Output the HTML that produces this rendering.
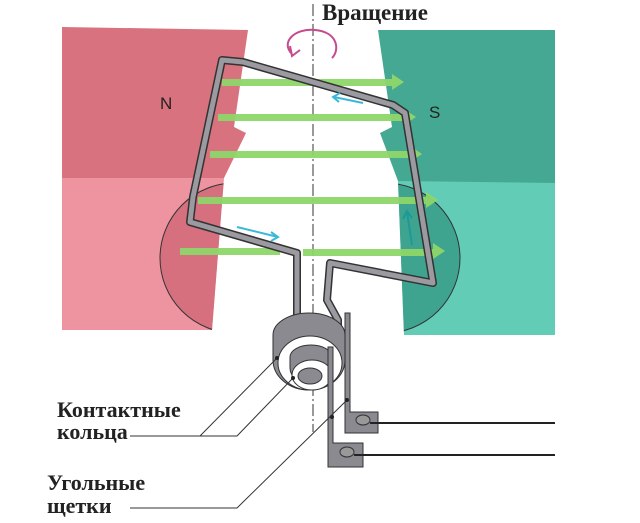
<!DOCTYPE html>
<html><head><meta charset="utf-8"><style>
html,body{margin:0;padding:0;background:#fff;}
svg{display:block;}
text{font-family:"Liberation Serif",serif;font-weight:bold;fill:#222;}
</style></head><body>
<svg width="640" height="523" viewBox="0 0 640 523" xmlns="http://www.w3.org/2000/svg">
<defs>
<clipPath id="cl"><polygon points="62,178 224,178 212,330 62,330"/></clipPath>
<clipPath id="cr"><polygon points="398,181 555,181 555,335 404,335"/></clipPath>
</defs>
<polygon points="62,178 224,178 212,330 62,330" fill="#ee93a0"/>
<ellipse cx="235" cy="258" rx="75" ry="75" fill="#d6707e" stroke="#333" stroke-width="1" clip-path="url(#cl)"/>
<polygon points="62,27 248,30 234,127 246,133 224,178 62,178" fill="#d8727f"/>
<polygon points="398,181 555,181 555,335 404,335" fill="#62ccb6"/>
<ellipse cx="385" cy="258" rx="75" ry="75" fill="#3fa48f" stroke="#333" stroke-width="1" clip-path="url(#cr)"/>
<polygon points="378,30 555,30 555,183 398,181 380,133 392,127" fill="#45a892"/>
<line x1="313" y1="4" x2="313" y2="432" stroke="#333" stroke-width="1" stroke-dasharray="12,3,2,3"/>
<path d="M292,54 C280,42 295,28 315,30 C338,32 340,50 332,58" fill="none" stroke="#c74a8e" stroke-width="2"/>
<path d="M290,46 L292,56 L300,50" fill="none" stroke="#c74a8e" stroke-width="2"/>
<g fill="#8fd66a" opacity="0.95">
<rect x="222" y="79" width="170" height="7"/><polygon points="392,74 404,82 392,90"/>
<rect x="218" y="114" width="186" height="7"/><polygon points="404,109 416,117 404,125"/>
<rect x="210" y="151" width="200" height="7"/><polygon points="410,146 422,154 410,162"/>
<rect x="198" y="197" width="228" height="7"/><polygon points="426,192 438,200 426,208"/>
<rect x="180" y="248" width="100" height="7"/><rect x="303" y="249" width="130" height="7"/><polygon points="433,243 445,251 433,259"/>
</g>
<path d="M297,330 L297,253 L190,222 L193,197 L222,60 L243,62 L393,105 L405,113 L433,283 L330,263 L327,300 L338,320 L338,330" fill="none" stroke="#333" stroke-width="8" stroke-linejoin="round"/>
<path d="M297,330 L297,253 L190,222 L193,197 L222,60 L243,62 L393,105 L405,113 L433,283 L330,263 L327,300 L338,320 L338,330" fill="none" stroke="#9a9aa0" stroke-width="5" stroke-linejoin="round"/>
<g stroke="#3ab8d8" stroke-width="2" fill="none">
<line x1="363" y1="103" x2="334" y2="97"/><path d="M340,93 L333,97 L339,102"/>
<line x1="237" y1="227" x2="278" y2="237"/><path d="M271,232 L278,237 L271,241"/>
</g>
<g stroke="#1a9a9a" stroke-width="2" fill="none"><line x1="412" y1="245" x2="407" y2="212"/><path d="M403,219 L407,211 L412,218"/></g>
<!-- slip rings -->
<path d="M273,335 A36,22 0 0 1 345,335 L345,360 A36,30 0 0 1 273,360 Z" fill="#8a8a90" stroke="#333"/>
<ellipse cx="310" cy="363" rx="32" ry="27" fill="#fff" stroke="#333"/>
<path d="M290,357 A21,12 0 0 1 332,357 L332,368 A21,16 0 0 1 290,368 Z" fill="#8a8a90" stroke="#333"/>
<ellipse cx="312" cy="375" rx="20" ry="15" fill="#fff" stroke="#333"/>
<ellipse cx="310" cy="376" rx="12" ry="8" fill="#8a8a90" stroke="#333"/>
<!-- brushes -->
<path d="M345,313 L345,433 L378,433 L378,412 L350,412 L350,313 Z" fill="#8a8a90" stroke="#333"/>
<path d="M328,347 L328,467 L363,467 L363,443 L333,443 L333,347 Z" fill="#8a8a90" stroke="#333"/>
<ellipse cx="363" cy="420" rx="7" ry="5" fill="#999" stroke="#333"/>
<ellipse cx="347" cy="452" rx="7" ry="5" fill="#999" stroke="#333"/>
<line x1="370" y1="423" x2="555" y2="423" stroke="#222" stroke-width="2"/>
<line x1="354" y1="455" x2="555" y2="455" stroke="#222" stroke-width="2"/>
<g stroke="#333" stroke-width="1" fill="none">
<polyline points="130,436 200,436 277,358"/>
<polyline points="130,436 237,436 293,378"/>
<polyline points="130,508 237,508 347,400"/>
</g>
<g fill="#222"><circle cx="277" cy="358" r="2"/><circle cx="293" cy="378" r="2"/><circle cx="347" cy="400" r="2"/><circle cx="332" cy="417" r="2"/></g>
<text x="322" y="20" font-size="23">Вращение</text>
<text x="160" y="109" style="font-family:'Liberation Sans',sans-serif;font-weight:normal;font-size:17px">N</text>
<text x="429" y="118" style="font-family:'Liberation Sans',sans-serif;font-weight:normal;font-size:17px">S</text>
<text x="57" y="417" font-size="22">Контактные</text>
<text x="57" y="439" font-size="22">кольца</text>
<text x="47" y="490" font-size="22">Угольные</text>
<text x="47" y="513" font-size="22">щетки</text>
</svg>
</body></html>
